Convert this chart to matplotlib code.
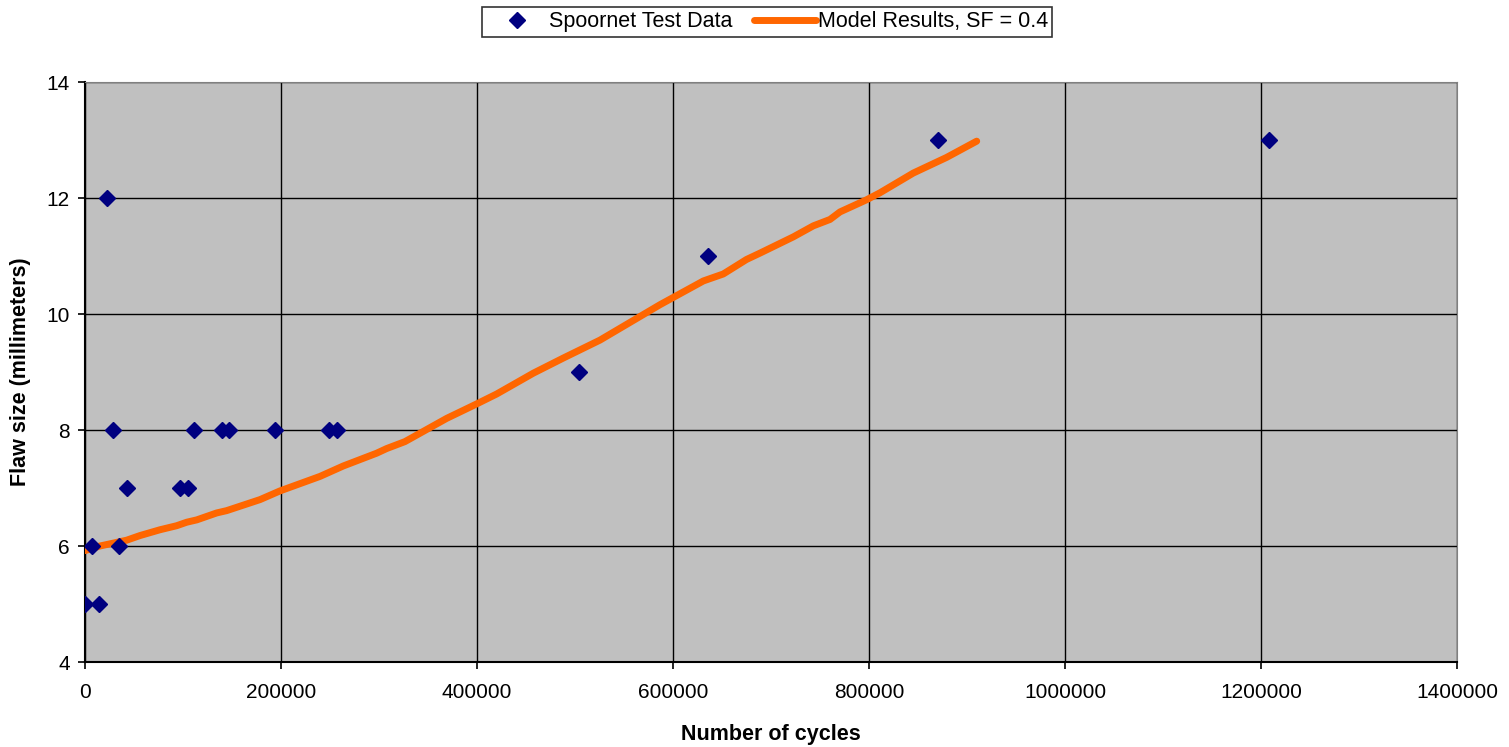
import matplotlib
matplotlib.use("Agg")
import matplotlib.pyplot as plt
from matplotlib.ticker import MultipleLocator, FuncFormatter

# Measured flaw sizes from the test programme
test_cycles = [0, 14600, 7400, 35000, 22100, 28300, 42600, 96900, 104800,
               111500, 139500, 146900, 194200, 249300, 256800, 504100,
               635700, 870400, 1208200]
test_flaw = [5, 5, 6, 6, 12, 8, 7, 7, 7, 8, 8, 8, 8, 8, 8, 9, 11, 13, 13]

# Crack growth model prediction
model_cycles = [0, 15300, 42500, 56100, 76500, 93600, 103800, 114000, 134400,
                144600, 178600, 199000, 239800, 263600, 297600, 307800,
                326500, 369000, 399700, 420000, 457500, 488000, 525500,
                586700, 631000, 651300, 675000, 688800, 722800, 743200,
                760200, 770400, 797600, 811200, 845200, 879200, 909900]
model_flaw = [5.92, 6.00, 6.10, 6.18, 6.28, 6.35, 6.41, 6.45, 6.57,
              6.61, 6.80, 6.95, 7.20, 7.38, 7.60, 7.68, 7.80, 8.20,
              8.45, 8.62, 8.98, 9.24, 9.55, 10.16, 10.57, 10.69, 10.94,
              11.05, 11.33, 11.52, 11.63, 11.76, 11.97, 12.09, 12.43,
              12.70, 12.98]

plt.rcParams['font.family'] = ['Liberation Sans', 'DejaVu Sans']
TICK_FS = 15
LABEL_FS = 15.5
LEG_FS = 15.5

fig = plt.figure(figsize=(15.09, 7.47), dpi=100)
ax = fig.add_axes([85 / 1509, 1 - 662 / 747, (1457 - 85) / 1509, (662 - 82) / 747])
ax.set_facecolor('#C0C0C0')

ax.plot(test_cycles, test_flaw, linestyle='none', marker='D', markersize=8.5,
        color='#000080', label='Spoornet Test Data', zorder=4)
ax.plot(model_cycles, model_flaw, color='#FF6600', linewidth=5,
        solid_capstyle='round', label='Model Results, SF = 0.4', zorder=3)

ax.set_xlim(0, 1400000)
ax.set_ylim(4, 14)
ax.xaxis.set_major_locator(MultipleLocator(200000))
ax.yaxis.set_major_locator(MultipleLocator(2))
ax.xaxis.set_major_formatter(FuncFormatter(lambda v, p: f"{int(round(v))}"))
ax.yaxis.set_major_formatter(FuncFormatter(lambda v, p: f"{int(round(v))}"))
ax.grid(True, color='black', linewidth=1)
ax.set_axisbelow(True)

for side in ('left', 'bottom'):
    ax.spines[side].set_color('black')
    ax.spines[side].set_linewidth(1.5)
for side in ('top', 'right'):
    ax.spines[side].set_color('#808080')
    ax.spines[side].set_linewidth(0.8)

ax.tick_params(axis='both', direction='out', length=5, width=1.2,
               labelsize=TICK_FS, colors='black')
ax.tick_params(axis='x', pad=10)
ax.tick_params(axis='y', pad=6)

ax.set_xlabel('Number of cycles', fontsize=LABEL_FS, fontweight='bold', labelpad=16)
ax.set_ylabel('Flaw size (millimeters)', fontsize=LABEL_FS, fontweight='bold', labelpad=11)

leg = fig.legend(loc='upper center', bbox_to_anchor=(767 / 1509, 1 - 7 / 747),
                 ncol=2, frameon=True, fancybox=False, fontsize=LEG_FS,
                 handlelength=2.85, handletextpad=0.1, columnspacing=1.0,
                 borderpad=0.2, borderaxespad=0)
leg.get_frame().set_edgecolor('black')
leg.get_frame().set_linewidth(1.2)

fig.savefig('out.png', dpi=100, facecolor='white')
